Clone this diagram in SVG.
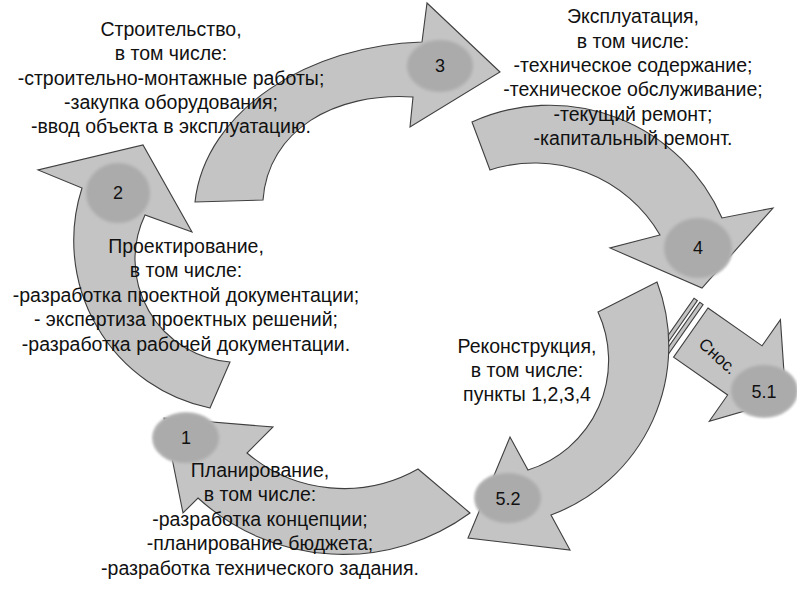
<svg xmlns="http://www.w3.org/2000/svg" width="797" height="598" viewBox="0 0 797 598">
<defs>
<style>
.arrow{fill:#c4c4c4;stroke:#3f3f3f;stroke-width:1.1;stroke-linejoin:miter}
.badge{fill:#ababab;stroke:#b8b8b8;stroke-width:2}
.lbl{font-family:"Liberation Sans",Arial,sans-serif;font-size:19.5px;fill:#111;text-anchor:middle}
.num{font-family:"Liberation Sans",Arial,sans-serif;font-size:18px;fill:#111;text-anchor:middle}
.tag{font-family:"Liberation Sans",Arial,sans-serif;font-size:17px;fill:#111;text-anchor:middle}
</style>
<filter id="soft" x="-20%" y="-20%" width="140%" height="140%"><feGaussianBlur stdDeviation="1.2"/></filter>
</defs>
<rect width="797" height="598" fill="#ffffff"/>
<g id="connectors">
<path id="arrow-1" class="arrow" d="M418,469 L470,513 A215,215 0 0 1 198,498 L183,513 L164,418 L273,427 L247,453 A150,150 0 0 0 418,469 Z"/>
<path id="arrow-2" class="arrow" d="M210,408 L230,362 A103,103 0 0 1 145,215 L192,232 L143,145 L38,170 L82,188 A171,171 0 0 0 210,408 Z"/>
<path id="arrow-3" class="arrow" d="M195,202 C205,110 310,45 422,42 L427,3 L500,72 L410,127 L413,97 C335,92 268,130 263,200 Z"/>
<path id="arrow-4" class="arrow" d="M472,122 A188,188 0 0 1 722,218 L773,208 L702,288 L610,248 L660,235 A145,145 0 0 0 490,170 Z"/>
<g id="arrow-5-1" transform="translate(708,308) rotate(35)">
<rect class="arrow" x="-17" y="0" width="4" height="60"/>
<rect class="arrow" x="-10" y="0" width="4" height="60"/>
<path class="arrow" d="M0,0 L66,0 L66,-32 L116,30 L66,92 L66,60 L0,60 Z"/>
</g>
<path id="arrow-5-2" class="arrow" d="M657,282 A180,180 0 0 1 551,515 L570,550 L468,538 L510,437 L528,470 A115,115 0 0 0 598,312 Z"/>
<text class="tag" transform="translate(718,356) rotate(42)" y="6">Снос.</text>
</g>
<g id="node-1">
<ellipse class="badge" cx="186" cy="438" rx="33" ry="25" filter="url(#soft)"/>
<text class="num" x="186" y="444">1</text>
<text class="lbl" x="260" y="477">Планирование,</text>
<text class="lbl" x="260" y="501">в том числе:</text>
<text class="lbl" x="260" y="526">-разработка концепции;</text>
<text class="lbl" x="260" y="550">-планирование бюджета;</text>
<text class="lbl" x="260" y="575">-разработка технического задания.</text>
</g>
<g id="node-2">
<ellipse class="badge" cx="118" cy="193" rx="32" ry="30" filter="url(#soft)"/>
<text class="num" x="118" y="199">2</text>
<text class="lbl" x="186" y="253">Проектирование,</text>
<text class="lbl" x="186" y="277">в том числе:</text>
<text class="lbl" x="186" y="302">-разработка проектной документации;</text>
<text class="lbl" x="186" y="326">- экспертиза проектных решений;</text>
<text class="lbl" x="186" y="351">-разработка рабочей документации.</text>
</g>
<g id="node-3">
<ellipse class="badge" cx="440" cy="66" rx="33" ry="26" filter="url(#soft)"/>
<text class="num" x="440" y="72">3</text>
<text class="lbl" x="171" y="36">Строительство,</text>
<text class="lbl" x="171" y="60">в том числе:</text>
<text class="lbl" x="171" y="85">-строительно-монтажные работы;</text>
<text class="lbl" x="171" y="109">-закупка оборудования;</text>
<text class="lbl" x="171" y="133">-ввод объекта в эксплуатацию.</text>
</g>
<g id="node-4">
<ellipse class="badge" cx="698" cy="248" rx="34" ry="30" filter="url(#soft)"/>
<text class="num" x="698" y="254">4</text>
<text class="lbl" x="633" y="23">Эксплуатация,</text>
<text class="lbl" x="633" y="48">в том числе:</text>
<text class="lbl" x="633" y="72">-техническое содержание;</text>
<text class="lbl" x="633" y="96">-техническое обслуживание;</text>
<text class="lbl" x="633" y="121">-текущий ремонт;</text>
<text class="lbl" x="633" y="145">-капитальный ремонт.</text>
</g>
<g id="node-5-1">
<ellipse class="badge" cx="764" cy="391" rx="33" ry="26" filter="url(#soft)"/>
<text class="num" x="764" y="398">5.1</text>
</g>
<g id="node-5-2">
<ellipse class="badge" cx="508" cy="498" rx="33" ry="25" filter="url(#soft)"/>
<text class="num" x="508" y="505">5.2</text>
<text class="lbl" x="527" y="353">Реконструкция,</text>
<text class="lbl" x="527" y="377">в том числе:</text>
<text class="lbl" x="527" y="401">пункты 1,2,3,4</text>
</g>
</svg>
